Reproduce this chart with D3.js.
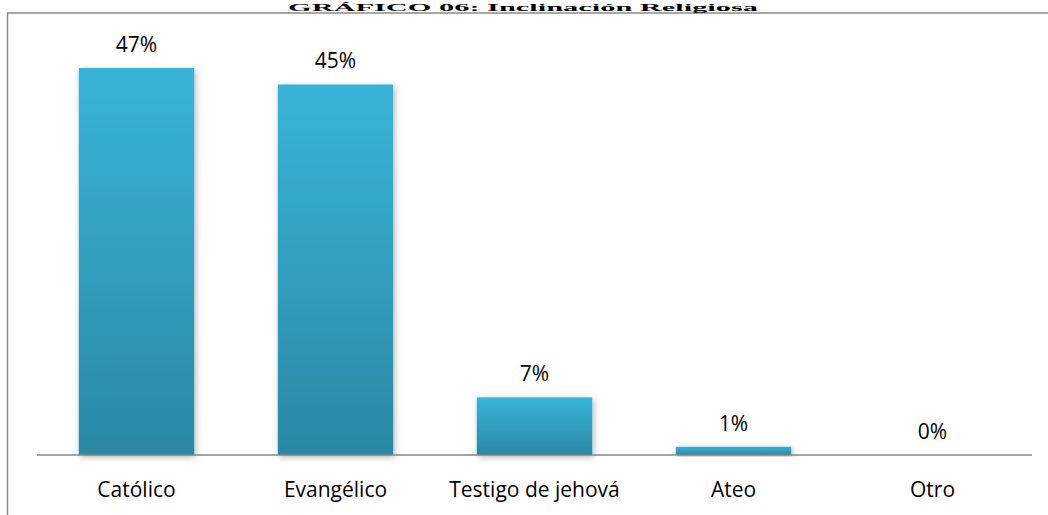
<!DOCTYPE html>
<html>
<head>
<meta charset="utf-8">
<script src="https://cdn.jsdelivr.net/npm/d3@7"></script>
<style>
  html, body { margin: 0; padding: 0; background: #fff; }
  svg { display: block; }
</style>
</head>
<body>
<svg id="chart" width="1048" height="515"></svg>
<script>
// Religious affiliation shares (percent)
const categories = ["Católico", "Evangélico", "Testigo de jehová", "Ateo", "Otro"];
const values = [47, 45, 7, 1, 0];
const valueLabels = ["47%", "45%", "7%", "1%", "0%"];
const title = "GRÁFICO 06: Inclinación Religiosa";

const svg = d3.select("#chart");

const plot = { left: 37, right: 1032, baseline: 455 };

const x = d3.scaleBand()
  .domain(categories)
  .range([plot.left, plot.right])
  .paddingInner(0.42)
  .paddingOuter(0.21);

const y = d3.scaleLinear()
  .domain([0, 47])
  .range([plot.baseline, 68]);

const defs = svg.append("defs");

const grad = defs.append("linearGradient")
  .attr("id", "barFill")
  .attr("x1", 0).attr("y1", 0).attr("x2", 0).attr("y2", 1);
grad.append("stop").attr("offset", "0%").attr("stop-color", "#38B4D8");
grad.append("stop").attr("offset", "100%").attr("stop-color", "#2A89A4");

const shadow = defs.append("filter")
  .attr("id", "barShadow")
  .attr("x", "-20%").attr("y", "-20%")
  .attr("width", "140%").attr("height", "140%");
shadow.append("feDropShadow")
  .attr("dx", 1.5).attr("dy", 2)
  .attr("stdDeviation", 3)
  .attr("flood-color", "#000")
  .attr("flood-opacity", 0.3);

// Outer frame (continues past the right and bottom edges)
svg.append("rect")
  .attr("x", 7.5).attr("y", 13)
  .attr("width", 1100).attr("height", 600)
  .attr("fill", "none")
  .attr("stroke", "#8a8a8a")
  .attr("stroke-width", 1.5);

// Title above the frame
svg.append("text")
  .attr("x", 523)
  .attr("y", 11)
  .attr("text-anchor", "middle")
  .attr("font-family", "'Liberation Serif', 'DejaVu Serif', serif")
  .attr("font-weight", "bold")
  .attr("font-size", 11)
  .attr("textLength", 470)
  .attr("lengthAdjust", "spacingAndGlyphs")
  .attr("fill", "#000")
  .text(title);

// Bars
svg.append("g")
  .selectAll("rect")
  .data(values.map((v, i) => ({ cat: categories[i], v })).filter(d => d.v > 0))
  .join("rect")
  .attr("x", d => x(d.cat))
  .attr("y", d => y(d.v))
  .attr("width", x.bandwidth())
  .attr("height", d => y(0) - y(d.v))
  .attr("fill", "url(#barFill)")
  .attr("filter", "url(#barShadow)");

// Category axis
const axis = svg.append("g")
  .attr("transform", `translate(0,${plot.baseline})`)
  .call(d3.axisBottom(x).tickSize(0).tickPadding(27));
axis.select(".domain")
  .attr("stroke", "#868686")
  .attr("stroke-width", 1.5)
  .attr("d", `M${plot.left},0H${plot.right}`);
axis.selectAll("text")
  .attr("font-family", "'Open Sans', 'Noto Sans', sans-serif")
  .attr("font-size", 21)
  .attr("fill", "#000");

// Value labels
svg.append("g")
  .selectAll("text")
  .data(values.map((v, i) => ({ cat: categories[i], v, label: valueLabels[i] })))
  .join("text")
  .attr("x", d => x(d.cat) + x.bandwidth() / 2)
  .attr("y", d => y(d.v) - 16)
  .attr("text-anchor", "middle")
  .attr("font-family", "'Open Sans', 'Noto Sans', sans-serif")
  .attr("font-size", 21)
  .attr("fill", "#000")
  .text(d => d.label);
</script>
</body>
</html>
